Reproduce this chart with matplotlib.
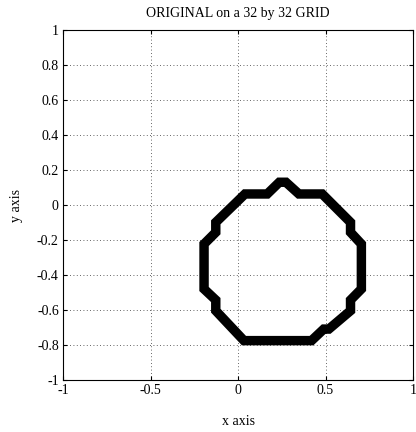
import matplotlib
matplotlib.use("Agg")
import matplotlib.pyplot as plt
from matplotlib.patches import Polygon

# Contour vertices (closed polygon)
x_vals = [0.040, 0.167, 0.236, 0.274, 0.348, 0.481, 0.643, 0.643, 0.705, 0.705,
          0.643, 0.643, 0.519, 0.490, 0.420, 0.034, -0.127, -0.127, -0.194, -0.194,
          -0.127, -0.127]
y_vals = [0.063, 0.063, 0.130, 0.130, 0.063, 0.063, -0.099, -0.156, -0.223, -0.480,
          -0.543, -0.604, -0.709, -0.709, -0.775, -0.775, -0.604, -0.543, -0.480, -0.223,
          -0.156, -0.099]

x_ticks = [-1, -0.5, 0, 0.5, 1]
x_labels = ["-1", "-0.5", "0", "0.5", "1"]
y_ticks = [-1, -0.8, -0.6, -0.4, -0.2, 0, 0.2, 0.4, 0.6, 0.8, 1]
y_labels = ["-1", "-0.8", "-0.6", "-0.4", "-0.2", "0", "0.2", "0.4", "0.6", "0.8", "1"]

plt.rcParams['font.family'] = ['Liberation Serif', 'DejaVu Serif']

fig = plt.figure(figsize=(4.16, 4.32), dpi=100)
ax = fig.add_axes([63/416, 52/432, 350/416, 350/432])

poly = Polygon(list(zip(x_vals, y_vals)), closed=True, fill=False,
               edgecolor='black', linewidth=6.8, joinstyle='miter', zorder=3)
ax.add_patch(poly)

ax.set_xlim(-1, 1)
ax.set_ylim(-1, 1)
ax.set_xticks(x_ticks)
ax.set_xticklabels(x_labels)
ax.set_yticks(y_ticks)
ax.set_yticklabels(y_labels)
ax.grid(True, linestyle=(0, (1, 3)), color='#333333', linewidth=0.6)
ax.tick_params(direction='in', length=3, width=0.8, top=True, right=True,
               labelsize=10, pad=3)
for s in ax.spines.values():
    s.set_linewidth(0.8)

ax.set_title("ORIGINAL on a 32 by 32 GRID", fontsize=10, pad=9)
ax.set_xlabel("x axis", fontsize=10, labelpad=13)
ax.set_ylabel("y axis", fontsize=10, labelpad=10)

fig.savefig("out.png", dpi=100)
